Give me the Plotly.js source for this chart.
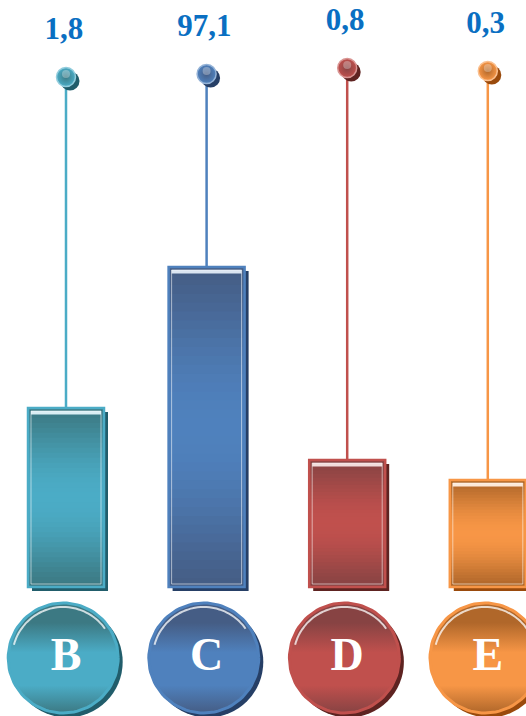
<!DOCTYPE html>
<html><head><meta charset="utf-8">
<script src="https://cdn.plot.ly/plotly-3.0.1.min.js"></script>
<style>html,body{margin:0;padding:0;background:#fff}#chart{width:526px;height:716px}</style>
</head><body><div id="chart"></div>
<script>
// ---- data ----
const categories = ['B', 'C', 'D', 'E'];
const valueLabels = ['1,8', '97,1', '0,8', '0,3'];
const barHeights = [179, 320, 127, 107];   // (decorative bar heights)
const pinHeights = [510, 513, 519, 516];   // (pin heads)
const slots = [0, 1, 2, 3];

// ---- styles ----
const lightColors = ['#4bacc6', '#4f81bd', '#c0504d', '#f79646'];
const darkColors = ['#3c7983', '#455d85', '#874343', '#b0672a'];
const shadowColors = ['#215d6b', '#263f66', '#5e2321', '#9a4a0c'];
const tintColors = ['#daeef3', '#dbe5f1', '#f2dcdb', '#fde9d9'];
const PX_X = 140.6;        // pixels per slot
const PX_Y = 1;            // pixels per y unit
const BW = 76 / PX_X;      // bar width
const SH = 4;              // shadow offset px
const CIRCLE_Y = -71;
const CIRCLE_R = 55;
const LABEL_OFFSET = 46;

function hex(h){h=h.replace('#','');return [0,2,4].map(i=>parseInt(h.substr(i,2),16));}
function mix(a,b,t){const A=hex(a),B=hex(b);return 'rgb('+A.map((v,i)=>Math.round(v+(B[i]-v)*t)).join(',')+')';}

const traces = [];
// bar shadows
traces.push({type:'bar', x:slots, y:barHeights, base:barHeights.map(()=>-SH/PX_Y), width:BW,
  offset:-BW/2 + SH/PX_X, marker:{color:shadowColors, line:{width:0}}, hoverinfo:'skip'});
// gradient bar segments
const N = 36;
for (let k = 0; k < N; k++) {
  const t = (k + 0.5) / N;
  const prof = Math.pow(Math.sin(Math.PI * t), 1.3);
  traces.push({type:'bar', x:slots,
    base:barHeights.map(h => h * k / N),
    y:barHeights.map(h => h / N + (k < N - 1 ? 0.8 : 0)),
    width:BW, marker:{color:slots.map(i => mix(darkColors[i], lightColors[i], prof)), line:{width:0}},
    hoverinfo:'skip'});
}
// top light strip
traces.push({type:'bar', x:slots, base:barHeights.map(h => h - 6.5), y:barHeights.map(() => 3.5),
  width:BW - 6 / PX_X, marker:{color:tintColors, line:{width:0}}, hoverinfo:'skip'});
// inner light line
traces.push({type:'bar', x:slots, base:barHeights.map(() => 3), y:barHeights.map(h => h - 6),
  width:BW - 6 / PX_X, marker:{color:'rgba(0,0,0,0)', line:{width:1, color:'rgba(255,255,255,0.55)'}}, hoverinfo:'skip'});
// outer border
traces.push({type:'bar', x:slots, y:barHeights, width:BW,
  marker:{color:'rgba(0,0,0,0)', line:{width:2.5, color:lightColors}}, hoverinfo:'skip'});

// stems
slots.forEach(i => {
  traces.push({type:'scatter', mode:'lines', x:[slots[i], slots[i]], y:[barHeights[i], pinHeights[i]],
    line:{color:lightColors[i], width:2.5}, hoverinfo:'skip'});
});
// pin shadows
traces.push({type:'scatter', mode:'markers', x:slots.map(s => s + 4 / PX_X), y:pinHeights.map(p => p - 4 / PX_Y),
  marker:{size:19, color:shadowColors, line:{width:0}}, hoverinfo:'skip'});
// pin heads
traces.push({type:'scatter', mode:'markers', x:slots, y:pinHeights,
  marker:{size:19, color:lightColors, gradient:{type:'radial', color:darkColors}, line:{width:1.5, color:tintColors.map((c,i)=>mix(c, lightColors[i], 0.5))}}, hoverinfo:'skip'});
traces.push({type:'scatter', mode:'markers', x:slots, y:pinHeights.map(p => p + 3),
  marker:{size:8, color:'rgba(255,255,255,0.3)', line:{width:0}}, hoverinfo:'skip'});
// value labels
traces.push({type:'scatter', mode:'text', x:slots.map(s => s - 0.015), y:pinHeights.map(p => p + LABEL_OFFSET / PX_Y),
  text:valueLabels, textposition:'middle center',
  textfont:{family:'Liberation Serif', size:31, color:'#0a6fc2', weight:'bold'}, hoverinfo:'skip', cliponaxis:false});

// bottom circle shadows
traces.push({type:'scatter', mode:'markers', x:slots.map(s => s - 0.02 + 4 / PX_X), y:slots.map(() => CIRCLE_Y - 4 / PX_Y),
  marker:{size:2 * CIRCLE_R + 1, color:shadowColors, line:{width:0}}, hoverinfo:'skip'});
// bottom circles (gradient-filled outlines)
const NP = 96;
slots.forEach(i => {
  const cx = slots[i] - 0.02, xs = [], ys = [];
  for (let j = 0; j <= NP; j++) {
    const a = 2 * Math.PI * j / NP;
    xs.push(cx + CIRCLE_R * Math.cos(a) / PX_X);
    ys.push(CIRCLE_Y + CIRCLE_R * Math.sin(a) / PX_Y);
  }
  traces.push({type:'scatter', mode:'lines', x:xs, y:ys, fill:'toself', fillcolor:lightColors[i],
    fillgradient:{type:'vertical', start:CIRCLE_Y - CIRCLE_R, stop:CIRCLE_Y + CIRCLE_R,
      colorscale:[[0, darkColors[i]], [0.25, lightColors[i]], [0.55, lightColors[i]], [0.82, darkColors[i]], [1, darkColors[i]]]},
    line:{color:lightColors[i], width:3}, hoverinfo:'skip'});
  // highlight arc
  const hx = [], hy = [];
  for (let j = 0; j <= 40; j++) {
    const a = (35 + 130 * j / 40) * Math.PI / 180;
    hx.push(cx + (CIRCLE_R - 4) * Math.cos(a) / PX_X);
    hy.push(CIRCLE_Y + (CIRCLE_R - 4) * Math.sin(a) / PX_Y);
  }
  traces.push({type:'scatter', mode:'lines', x:hx, y:hy,
    line:{color:'rgba(255,255,255,0.75)', width:2, shape:'spline'}, hoverinfo:'skip'});
});
// category letters
traces.push({type:'scatter', mode:'text', x:slots.map(s => s + 0.0), y:slots.map(() => CIRCLE_Y),
  text:categories, textposition:'middle center',
  textfont:{family:'Liberation Serif', size:46, color:'#ffffff', weight:'bold'},
  hoverinfo:'skip', cliponaxis:false});

const W = 526, H = 716;
const x0 = -66 / PX_X;
const layout = {
  width:W, height:H, margin:{l:0, r:0, t:0, b:0}, paper_bgcolor:'#fff', plot_bgcolor:'#fff',
  showlegend:false, barmode:'overlay',
  xaxis:{range:[x0, x0 + W / PX_X], visible:false, fixedrange:true},
  yaxis:{range:[-129, 587], visible:false, fixedrange:true}
};
Plotly.newPlot('chart', traces, layout, {displayModeBar:false, staticPlot:true});
</script></body></html>
